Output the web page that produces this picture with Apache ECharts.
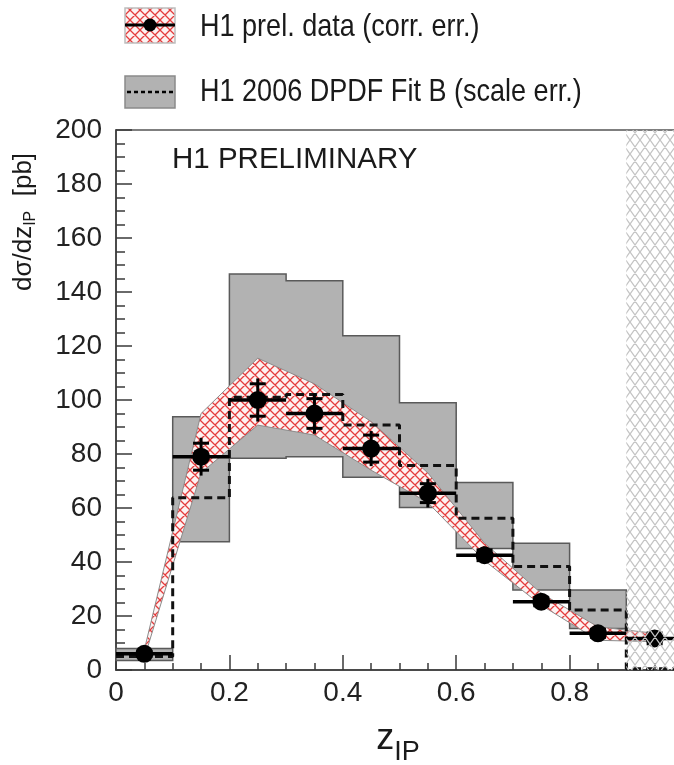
<!DOCTYPE html>
<html>
<head>
<meta charset="utf-8">
<script src="https://cdn.jsdelivr.net/npm/echarts@6/dist/echarts.min.js"></script>
<style>
html,body{margin:0;padding:0;background:#fff;}
#chart{width:674px;height:765px;}
</style>
</head>
<body>
<div id="chart"></div>
<script>
// ---------------- data ----------------
const binLow      = [0.0, 0.1, 0.2, 0.3, 0.4, 0.5, 0.6, 0.7, 0.8, 0.9];
const binHigh     = [0.1, 0.2, 0.3, 0.4, 0.5, 0.6, 0.7, 0.8, 0.9, 1.0];
const binCenter   = [0.05, 0.15, 0.25, 0.35, 0.45, 0.55, 0.65, 0.75, 0.85, 0.95];
// H1 preliminary data
const dataValue   = [6, 79, 100, 95, 82, 65.5, 42.5, 25.3, 13.6, 11.7];
const dataErrTot  = [1.5, 7, 8, 7.5, 6.5, 5.3, 3.2, 2.2, 2.2, 3];
const dataErrIn   = [1, 5, 6, 5.5, 5, 3.5, 2, 1.5, 1.5, 2];
// correlated error band (at bin centres)
const corrUpper   = [7.5, 95, 115.5, 106, 92, 73, 47, 28.4, 16, 13.6];
const corrLower   = [4.5, 73, 90.7, 87, 74, 62, 40.5, 24, 11, 10.5];
// H1 2006 DPDF Fit B prediction (per bin)
const fitCentral  = [5, 63.8, 101, 102, 90.7, 75.7, 56.2, 38.3, 22.2, 0.5];
const fitScaleLow = [3.5, 47.5, 78.4, 79, 71.4, 60.2, 45, 29.6, 15.4];
const fitScaleHigh= [8, 93.8, 146.7, 144.2, 123.8, 99, 69.4, 46.9, 29.6];
// excluded region
const excludedX   = [0.9, 1.0];
// axis tick labels
const xTickLabels = {0: '0', 0.2: '0.2', 0.4: '0.4', 0.6: '0.6', 0.8: '0.8', 1: '1'};
const yTickLabels = ['0','20','40','60','80','100','120','140','160','180','200'];

// ---------------- styles ----------------
const FONT = "'Liberation Sans', Arial, Helvetica, sans-serif";
const GRAY = '#b2b2b2';
const AXIS = '#3a3a3a';

function makeHatch(color, w, h, lw, bg) {
  const c = document.createElement('canvas');
  c.width = w; c.height = h;
  const ctx = c.getContext('2d');
  if (bg) { ctx.fillStyle = bg; ctx.fillRect(0, 0, w, h); }
  ctx.strokeStyle = color; ctx.lineWidth = lw;
  ctx.beginPath();
  for (let k = -1; k <= 1; k++) {
    ctx.moveTo(k * w, 0); ctx.lineTo(k * w + w, h);
    ctx.moveTo(k * w + w, 0); ctx.lineTo(k * w, h);
  }
  ctx.stroke();
  return c;
}
const redHatch = { image: makeHatch('#e43c3c', 10, 10, 1.3, '#fdf2f2'), repeat: 'repeat' };
const grayHatch = { image: makeHatch('#c4c4c4', 10, 14, 1.3, null), repeat: 'repeat' };

// ---------------- series data built from arrays ----------------
const fitBoxData = fitScaleLow.map((lo, i) => [binLow[i], binHigh[i], lo, fitScaleHigh[i]]);
const fitLineData = [];
fitCentral.forEach((v, i) => { fitLineData.push([binLow[i], v]); fitLineData.push([binHigh[i], v]); });
const pointData = dataValue.map((v, i) => [binCenter[i], v, dataErrTot[i], dataErrIn[i], binLow[i], binHigh[i]]);

function overlap(a, b) { return !!(a && b && a[2] < b[3] && a[3] > b[2]); }

// Each run of touching, overlapping bins is drawn as one outlined step polygon.
function renderFitBox(params, api) {
  const i = params.dataIndex;
  if (overlap(fitBoxData[i - 1], fitBoxData[i])) return { type: 'group', children: [] };
  let j = i;
  while (overlap(fitBoxData[j], fitBoxData[j + 1])) j++;
  const pts = [];
  for (let k = i; k <= j; k++) {
    pts.push(api.coord([fitBoxData[k][0], fitBoxData[k][3]]));
    pts.push(api.coord([fitBoxData[k][1], fitBoxData[k][3]]));
  }
  for (let k = j; k >= i; k--) {
    pts.push(api.coord([fitBoxData[k][1], fitBoxData[k][2]]));
    pts.push(api.coord([fitBoxData[k][0], fitBoxData[k][2]]));
  }
  return { type: 'polygon', shape: { points: pts },
    style: { fill: GRAY, stroke: '#5a5a5a', lineWidth: 1.5 } };
}

function renderBand(params, api) {
  const pts = [];
  for (let i = 0; i < binCenter.length; i++) pts.push(api.coord([binCenter[i], corrUpper[i]]));
  for (let i = binCenter.length - 1; i >= 0; i--) pts.push(api.coord([binCenter[i], corrLower[i]]));
  return { type: 'polygon', shape: { points: pts },
    style: { fill: redHatch, stroke: '#8c8c8c', lineWidth: 1 } };
}

function renderPoint(params, api) {
  const x = api.value(0), y = api.value(1), et = api.value(2), ei = api.value(3);
  const xl = api.value(4), xh = api.value(5);
  const c = api.coord([x, y]);
  const l = api.coord([xl, y]), r = api.coord([xh, y]);
  const t = api.coord([x, y + et]), b = api.coord([x, y - et]);
  const it = api.coord([x, y + ei]), ib = api.coord([x, y - ei]);
  const st = { stroke: '#000', lineWidth: 3.5 };
  return { type: 'group', children: [
    { type: 'line', shape: { x1: l[0], y1: c[1], x2: r[0], y2: c[1] }, style: st },
    { type: 'line', shape: { x1: c[0], y1: t[1], x2: c[0], y2: b[1] }, style: { stroke: '#000', lineWidth: 3 } },
    { type: 'line', shape: { x1: c[0] - 8, y1: it[1], x2: c[0] + 8, y2: it[1] }, style: { stroke: '#000', lineWidth: 3 } },
    { type: 'line', shape: { x1: c[0] - 8, y1: ib[1], x2: c[0] + 8, y2: ib[1] }, style: { stroke: '#000', lineWidth: 3 } },
    { type: 'circle', shape: { cx: c[0], cy: c[1], r: 9 }, style: { fill: '#000' } }
  ]};
}

function renderExcluded(params, api) {
  const a = api.coord([excludedX[0], 200]), b = api.coord([excludedX[1], 0]);
  return { type: 'rect', shape: { x: a[0], y: a[1], width: b[0] - a[0], height: b[1] - a[1] },
    style: { fill: grayHatch } };
}

const chart = echarts.init(document.getElementById('chart'), null, { renderer: 'canvas' });
chart.setOption({
  animation: false,
  backgroundColor: '#fff',
  grid: { left: 116, top: 130, width: 567, height: 540, show: true, borderColor: '#555', borderWidth: 1.5,
          backgroundColor: 'transparent', containLabel: false, outerBoundsMode: 'none' },
  xAxis: {
    type: 'value', min: 0, max: 1, interval: 0.2,
    axisLine: { show: true, onZero: false, lineStyle: { color: AXIS, width: 1.5 } },
    axisTick: { show: true, inside: true, length: 15, lineStyle: { color: AXIS, width: 1.5 } },
    minorTick: { show: true, splitNumber: 4, length: 7, lineStyle: { color: AXIS, width: 1.5 } },
    splitLine: { show: false }, minorSplitLine: { show: false },
    axisLabel: { fontSize: 28, color: '#222', fontFamily: FONT, margin: 9,
      formatter: v => xTickLabels[Math.round(v * 10) / 10] ?? String(v) }
  },
  yAxis: {
    type: 'value', min: 0, max: 200, interval: 20,
    axisLine: { show: true, onZero: false, lineStyle: { color: AXIS, width: 1.5 } },
    axisTick: { show: true, inside: true, length: 16, lineStyle: { color: AXIS, width: 1.5 } },
    minorTick: { show: true, splitNumber: 4, length: 9, lineStyle: { color: AXIS, width: 1.5 } },
    splitLine: { show: false }, minorSplitLine: { show: false },
    axisLabel: { fontSize: 28, color: '#222', fontFamily: FONT, margin: 14,
      formatter: v => yTickLabels[Math.round(v / 20)] }
  },
  series: [
    { name: 'H1 2006 DPDF Fit B (scale err.)', type: 'custom', z: 2, renderItem: renderFitBox,
      data: fitBoxData, encode: { x: [0, 1], y: [2, 3] }, silent: true },
    { name: 'H1 prel. data band', type: 'custom', z: 3, renderItem: renderBand,
      data: [[binCenter[0], corrLower[0]]], encode: { x: 0, y: 1 }, silent: true },
    { name: 'H1 2006 DPDF Fit B', type: 'line', z: 4, data: fitLineData, symbol: 'none',
      lineStyle: { color: '#111', width: 3, type: [8, 5] }, silent: true },
    { name: 'H1 prel. data (corr. err.)', type: 'custom', z: 5, renderItem: renderPoint,
      data: pointData, encode: { x: 0, y: 1 }, silent: true },
    { name: 'excluded', type: 'custom', z: 6, renderItem: renderExcluded,
      data: [[excludedX[0], 0]], encode: { x: 0, y: 1 }, silent: true }
  ],
  graphic: [
    // legend entry 1
    { type: 'rect', shape: { x: 125, y: 8, width: 50, height: 35 }, style: { fill: redHatch, stroke: '#bdbdbd', lineWidth: 1.5 } },
    { type: 'line', shape: { x1: 125, y1: 25, x2: 175, y2: 25 }, style: { stroke: '#000', lineWidth: 3 } },
    { type: 'circle', shape: { cx: 150, cy: 25, r: 6.5 }, style: { fill: '#000' } },
    { type: 'text', x: 200, y: 27, scaleX: 0.845,
      style: { text: 'H1 prel. data (corr. err.)', fontSize: 32, fontFamily: FONT, fill: '#1a1a1a', align: 'left', verticalAlign: 'middle' } },
    // legend entry 2
    { type: 'rect', shape: { x: 125, y: 76, width: 50, height: 32 }, style: { fill: GRAY, stroke: '#8a8a8a', lineWidth: 1.5 } },
    { type: 'line', shape: { x1: 127, y1: 92, x2: 173, y2: 92 }, style: { stroke: '#000', lineWidth: 2.5, lineDash: [4, 3] } },
    { type: 'text', x: 200, y: 92, scaleX: 0.845,
      style: { text: 'H1 2006 DPDF Fit B (scale err.)', fontSize: 32, fontFamily: FONT, fill: '#1a1a1a', align: 'left', verticalAlign: 'middle' } },
    // in-plot label
    { type: 'text', x: 172, y: 160,
      style: { text: 'H1 PRELIMINARY', fontSize: 29.5, fontFamily: FONT, fill: '#1a1a1a', align: 'left', verticalAlign: 'middle' } },
    // y-axis title
    { type: 'text', x: 24, y: 222, rotation: Math.PI / 2,
      style: { text: '{m|dσ/dz}{s|IP}{m|  [pb]}', align: 'center', verticalAlign: 'middle', fill: '#1a1a1a',
        rich: { m: { fontSize: 26, fontFamily: FONT, fill: '#1a1a1a' },
                s: { fontSize: 16, fontFamily: FONT, fill: '#1a1a1a', padding: [14, 0, 0, 0] } } } },
    // x-axis title
    { type: 'text', x: 398, y: 739,
      style: { text: '{m|z}{s|IP}', align: 'center', verticalAlign: 'middle', fill: '#1a1a1a',
        rich: { m: { fontSize: 36, fontFamily: FONT, fill: '#1a1a1a' },
                s: { fontSize: 27, fontFamily: FONT, fill: '#1a1a1a', padding: [28, 0, 0, 0] } } } }
  ]
});
</script>
</body>
</html>
